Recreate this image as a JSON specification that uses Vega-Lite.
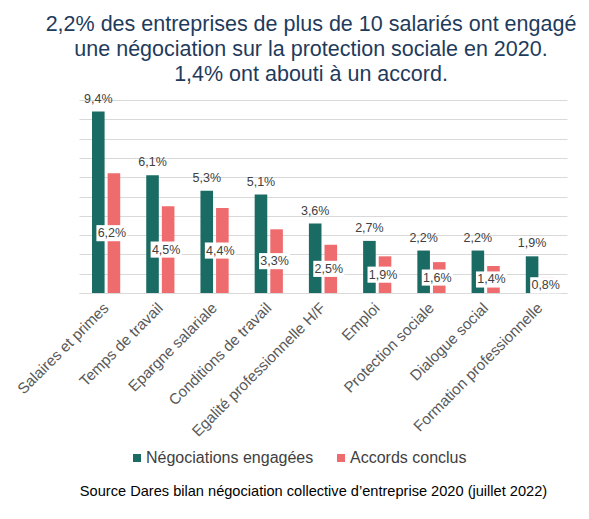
{
  "$schema": "https://vega.github.io/schema/vega-lite/v6.json",
  "autosize": "none",
  "width": 488,
  "height": 193,
  "padding": {"left": 79, "top": 100, "right": 22, "bottom": 226},
  "background": "white",
  "title": {
    "text": ["2,2% des entreprises de plus de 10 salariés ont engagé", "une négociation sur la protection sociale en 2020.", "1,4% ont abouti à un accord."],
    "font": "Liberation Sans",
    "fontSize": 21.5,
    "fontWeight": "normal",
    "color": "#1f3b5c",
    "anchor": "middle",
    "dx": -12,
    "dy": 30,
    "lineHeight": 25,
    "baseline": "alphabetic",
    "offset": 20
  },
  "config": {
    "font": "Liberation Sans",
    "view": {"stroke": null},
    "locale": {"number": {"decimal": ",", "thousands": " ", "grouping": [3], "currency": ["", " €"]}}
  },
  "data": {
    "values": [
      {"cat": "Salaires et primes", "serie": "Négociations engagées", "v": 0.094},
      {"cat": "Salaires et primes", "serie": "Accords conclus", "v": 0.062},
      {"cat": "Temps de travail", "serie": "Négociations engagées", "v": 0.061},
      {"cat": "Temps de travail", "serie": "Accords conclus", "v": 0.045},
      {"cat": "Epargne salariale", "serie": "Négociations engagées", "v": 0.053},
      {"cat": "Epargne salariale", "serie": "Accords conclus", "v": 0.044},
      {"cat": "Conditions de travail", "serie": "Négociations engagées", "v": 0.051},
      {"cat": "Conditions de travail", "serie": "Accords conclus", "v": 0.033},
      {"cat": "Egalité professionnelle H/F", "serie": "Négociations engagées", "v": 0.036},
      {"cat": "Egalité professionnelle H/F", "serie": "Accords conclus", "v": 0.025},
      {"cat": "Emploi", "serie": "Négociations engagées", "v": 0.027},
      {"cat": "Emploi", "serie": "Accords conclus", "v": 0.019},
      {"cat": "Protection sociale", "serie": "Négociations engagées", "v": 0.022},
      {"cat": "Protection sociale", "serie": "Accords conclus", "v": 0.016},
      {"cat": "Dialogue social", "serie": "Négociations engagées", "v": 0.022},
      {"cat": "Dialogue social", "serie": "Accords conclus", "v": 0.014},
      {"cat": "Formation professionnelle", "serie": "Négociations engagées", "v": 0.019},
      {"cat": "Formation professionnelle", "serie": "Accords conclus", "v": 0.008}
    ]
  },
  "encoding": {
    "x": {
      "field": "cat",
      "type": "nominal",
      "sort": null,
      "scale": {"paddingInner": 0.48, "paddingOuter": 0.24},
      "axis": {
        "labelAngle": -45,
        "labelAlign": "right",
        "labelBaseline": "middle",
        "labelFontSize": 15.2,
        "labelColor": "#595959",
        "labelPadding": 12,
        "labelLimit": 400,
        "domainColor": "#d9d9d9",
        "ticks": false,
        "title": "Source Dares bilan négociation collective d’entreprise 2020 (juillet 2022)",
        "titleFontSize": 14.6,
        "titleFontWeight": "normal",
        "titleColor": "#000000",
        "titleAlign": "center",
        "titleBaseline": "alphabetic",
        "titleX": 234,
        "titleY": 202
      }
    },
    "xOffset": {
      "field": "serie",
      "type": "nominal",
      "sort": ["Négociations engagées", "Accords conclus"],
      "scale": {"paddingInner": 0.194, "paddingOuter": 0}
    }
  },
  "layer": [
    {
      "mark": {"type": "bar"},
      "encoding": {
        "y": {
          "field": "v",
          "type": "quantitative",
          "scale": {"domain": [0, 0.1], "nice": false},
          "axis": {
            "values": [0, 0.01, 0.02, 0.03, 0.04, 0.05, 0.06, 0.07, 0.08, 0.09, 0.1],
            "grid": true,
            "gridColor": "#d9d9d9",
            "labels": false,
            "ticks": false,
            "domain": false,
            "title": null
          }
        },
        "color": {
          "field": "serie",
          "type": "nominal",
          "sort": ["Négociations engagées", "Accords conclus"],
          "scale": {"domain": ["Négociations engagées", "Accords conclus"], "range": ["#1a6b63", "#ee6b6e"]},
          "legend": {
            "title": null,
            "orient": "none",
            "direction": "horizontal",
            "legendX": 50,
            "legendY": 350,
            "symbolType": "square",
            "symbolSize": 64,
            "symbolStrokeWidth": 0,
            "labelFontSize": 16,
            "labelColor": "#404040",
            "labelOffset": 1,
            "labelLimit": 300,
            "columnPadding": 19
          }
        }
      }
    },
    {
      "transform": [{"filter": "datum.serie === 'Négociations engagées'"}],
      "mark": {"type": "text", "fontSize": 12.5, "color": "#404040", "baseline": "middle", "dy": -13},
      "encoding": {
        "y": {"field": "v", "type": "quantitative", "scale": {"domain": [0, 0.1], "nice": false}, "axis": null},
        "text": {"field": "v", "type": "quantitative", "format": ".1%"}
      }
    },
    {
      "transform": [{"filter": "datum.serie === 'Accords conclus'"}],
      "mark": {"type": "point", "shape": "M-1.13,-0.52L0.87,-0.52L0.87,0.52L-1.13,0.52Z", "size": 961, "filled": true, "fill": "white", "opacity": 1, "strokeWidth": 0},
      "encoding": {
        "y": {"field": "v", "type": "quantitative", "scale": {"domain": [0, 0.2], "nice": false}, "axis": null}
      }
    },
    {
      "transform": [{"filter": "datum.serie === 'Accords conclus'"}],
      "mark": {"type": "text", "fontSize": 12.5, "color": "#404040", "baseline": "middle", "dx": -2},
      "encoding": {
        "y": {"field": "v", "type": "quantitative", "scale": {"domain": [0, 0.2], "nice": false}, "axis": null},
        "text": {"field": "v", "type": "quantitative", "format": ".1%"}
      }
    }
  ],
  "resolve": {"scale": {"y": "independent"}}
}
